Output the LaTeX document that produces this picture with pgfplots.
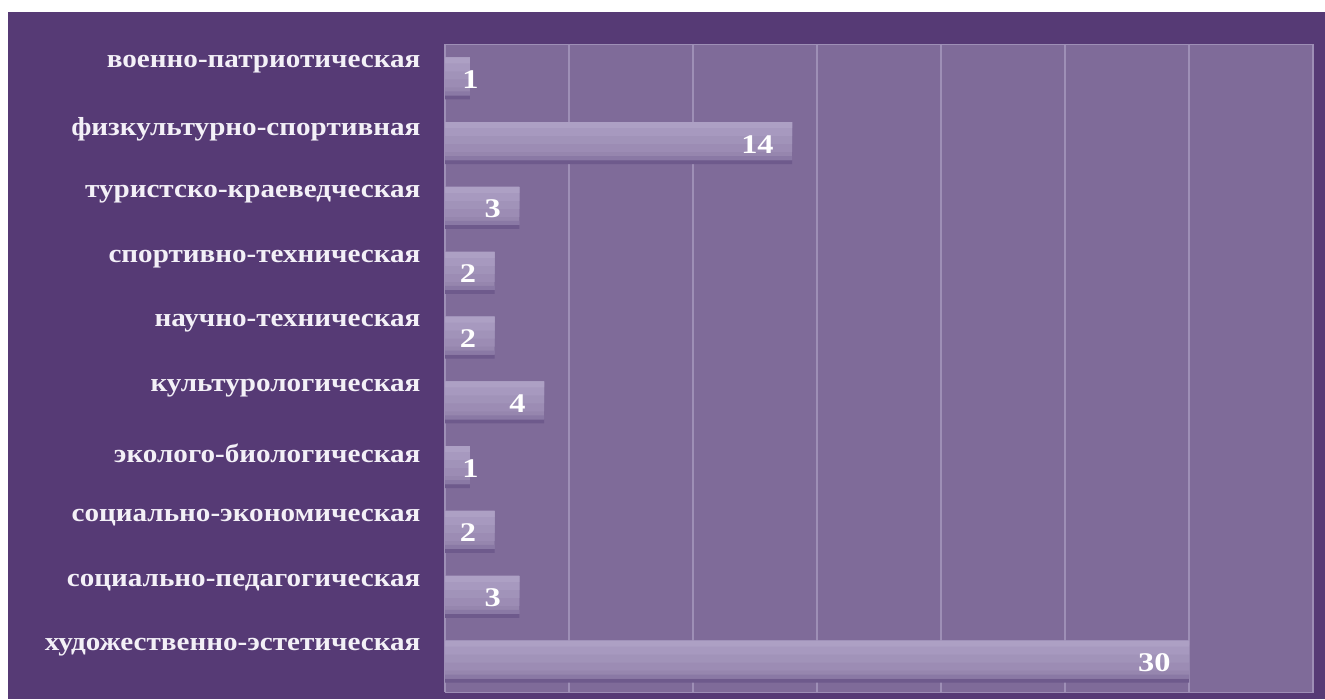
\documentclass[border=0pt]{standalone}
\usepackage{pgfplots}
\pgfplotsset{compat=1.18}
\usepackage{pgfplotstable}
\usepackage{fontspec}
\setmainfont{Liberation Serif}
\newfontfamily\labfont[FakeStretch=1.12]{Liberation Serif}
\newfontfamily\valfont[FakeStretch=1.2]{Liberation Serif}
\definecolor{bgc}{HTML}{563A75}
\definecolor{plotc}{HTML}{7F6B99}
\definecolor{gridc}{HTML}{9E8FB6}
\definecolor{b1}{HTML}{9686AE}
\definecolor{b2}{HTML}{9C8CB4}
\definecolor{b3}{HTML}{A193B9}
\definecolor{b4}{HTML}{A799BF}
\definecolor{b5}{HTML}{ADA0C4}
\definecolor{bedge}{HTML}{8A79A5}
\definecolor{shadowc}{HTML}{6E5A8C}
\definecolor{labc}{HTML}{F3F0F7}

\pgfplotstableread{
pos v lx
0 30 30
1 3 3
2 2 2
3 1 2.1
4 4 4
5 2 2
6 2 2
7 3 3
8 14 14
9 1 2.1
}\data

\begin{document}
\begin{tikzpicture}[x=1pt,y=1pt]
\fill[white] (0,0) rectangle (1325,699);
\fill[bgc] (8,0) rectangle (1325,687);
\begin{axis}[
  at={(445pt,7pt)}, anchor=south west,
  width=868pt, height=648pt, scale only axis,
  xmin=0, xmax=35, ymin=-0.5, ymax=9.5,
  axis background/.style={fill=plotc},
  axis line style={draw=gridc, line width=0.8pt},
  xmajorgrids, grid style={draw=gridc, line width=1.1pt},
  xtick={0,5,...,35}, xticklabels={},
  ytick={0,...,9},
  yticklabels={художественно-эстетическая,социально-педагогическая,социально-экономическая,эколого-биологическая,культурологическая,научно-техническая,спортивно-техническая,туристско-краеведческая,физкультурно-спортивная,военно-патриотическая},
  major tick length=0pt,
  yticklabel style={font=\labfont\bfseries\fontsize{26}{28}\selectfont, text=labc, xshift=-21pt, yshift=12pt},
]
\addplot[xbar, fill=shadowc, draw=none, bar width=38pt, bar shift=-4pt] table[x=v, y=pos] {\data};
\addplot[xbar, fill=b1, draw=none, bar width=38pt, bar shift=0pt] table[x=v, y=pos] {\data};
\addplot[xbar, fill=b2, draw=none, bar width=30pt, bar shift=4pt] table[x=v, y=pos] {\data};
\addplot[xbar, fill=b3, draw=none, bar width=22pt, bar shift=8pt] table[x=v, y=pos] {\data};
\addplot[xbar, fill=b4, draw=none, bar width=14pt, bar shift=12pt] table[x=v, y=pos] {\data};
\addplot[xbar, fill=b5, draw=none, bar width=6pt, bar shift=16pt] table[x=v, y=pos] {\data};
\addplot[xbar, fill=bedge, draw=none, bar width=4pt, bar shift=-17pt] table[x=v, y=pos] {\data};
\addplot[draw=none, mark=none, nodes near coords, point meta=explicit symbolic,
  every node near coord/.append style={anchor=east, text=white, font=\valfont\bfseries\fontsize{27}{28}\selectfont, xshift=-15pt, yshift=-3pt},
] table[x=lx, y=pos, meta=v] {\data};
\end{axis}
\pgfresetboundingbox
\path (0,0) rectangle (1325,699);
\end{tikzpicture}
\end{document}
